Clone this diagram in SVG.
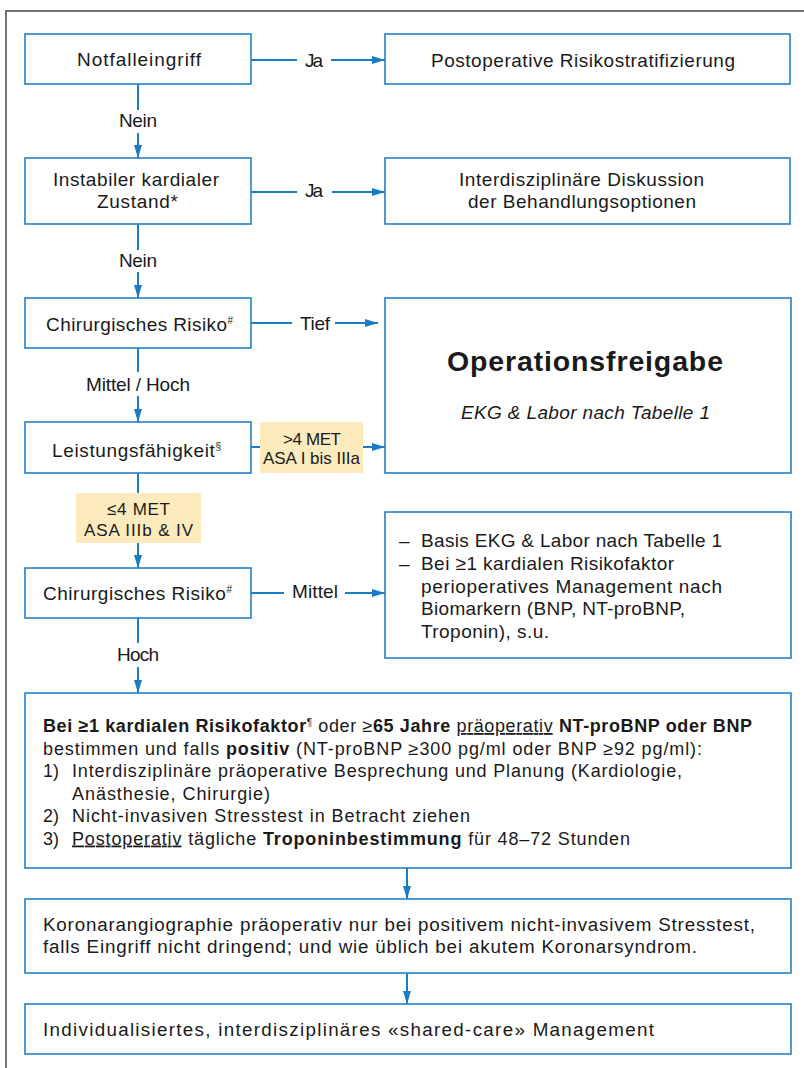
<svg xmlns="http://www.w3.org/2000/svg" width="804" height="1068" viewBox="0 0 804 1068">
<defs>
<style>
.box{fill:#fff;stroke:#2381c6;stroke-width:1.6}
.lbl{fill:#fdebbd;stroke:none}
.t{font-family:"Liberation Sans",Arial,sans-serif;font-size:19px;fill:#1a1a1a}
.y{font-size:17px}
.s{font-size:18px}
.m{font-size:18.8px}
.b{font-weight:bold}
.u{text-decoration:underline}
.sup{font-size:10px}
.c{stroke:#1a7cc2;stroke-width:2;fill:none}
</style>
<marker id="ah" markerWidth="13" markerHeight="8" refX="13" refY="4" orient="auto" markerUnits="userSpaceOnUse">
<path d="M0,0 L13,4 L0,8 z" fill="#1a7cc2"/>
</marker>
</defs>
<rect x="0" y="0" width="804" height="1068" fill="#fff"/>
<rect x="6" y="11" width="830" height="1090" fill="none" stroke="#444" stroke-width="1.5"/>

<g id="connectors">
<path class="c" d="M251,60 H297"/><path class="c" d="M331,60 H385" marker-end="url(#ah)"/>
<path class="c" d="M138,84 V110"/><path class="c" d="M138,133 V158" marker-end="url(#ah)"/>
<path class="c" d="M251,192 H297"/><path class="c" d="M332,192 H385" marker-end="url(#ah)"/>
<path class="c" d="M138,224 V250"/><path class="c" d="M138,272 V298" marker-end="url(#ah)"/>
<path class="c" d="M251,323 H292"/><path class="c" d="M335,323 H378" marker-end="url(#ah)"/>
<path class="c" d="M138,348 V372"/><path class="c" d="M138,396 V422" marker-end="url(#ah)"/>
<path class="c" d="M251,447 H260"/><path class="c" d="M363,447 H385" marker-end="url(#ah)"/>
<path class="c" d="M138,473 V493"/><path class="c" d="M138,543 V568" marker-end="url(#ah)"/>
<path class="c" d="M251,593 H284"/><path class="c" d="M345,593 H385" marker-end="url(#ah)"/>
<path class="c" d="M138,618 V643"/><path class="c" d="M138,667 V693" marker-end="url(#ah)"/>
<path class="c" d="M407,868 V899" marker-end="url(#ah)"/>
<path class="c" d="M407,973 V1004" marker-end="url(#ah)"/>
<text class="t" x="305" y="67" textLength="18">Ja</text>
<text class="t" x="305" y="197" textLength="18">Ja</text>
<text class="t" x="119" y="127" textLength="38">Nein</text>
<text class="t" x="119" y="267" textLength="38">Nein</text>
<text class="t" x="300" y="330" textLength="30">Tief</text>
<text class="t" x="86" y="391" textLength="104">Mittel / Hoch</text>
<text class="t" x="292" y="598" textLength="46">Mittel</text>
<text class="t" x="117" y="661" textLength="42">Hoch</text>
</g>

<g id="n1"><rect class="box" x="25" y="34" width="226" height="50"/>
<text class="t" x="77" y="66" textLength="124">Notfalleingriff</text></g>

<g id="n2"><rect class="box" x="385" y="34" width="405" height="50"/>
<text class="t" x="431" y="67" textLength="304">Postoperative Risikostratifizierung</text></g>

<g id="n3"><rect class="box" x="25" y="158" width="226" height="66"/>
<text class="t" x="53" y="186" textLength="166">Instabiler kardialer</text>
<text class="t" x="97" y="208" textLength="81">Zustand*</text></g>

<g id="n4"><rect class="box" x="385" y="158" width="405" height="66"/>
<text class="t" x="459" y="186" textLength="245">Interdisziplinäre Diskussion</text>
<text class="t" x="468" y="208" textLength="228">der Behandlungsoptionen</text></g>

<g id="n5"><rect class="box" x="25" y="298" width="226" height="50"/>
<text class="t" x="46" y="331" textLength="187">Chirurgisches Risiko<tspan class="sup" dy="-7">#</tspan></text></g>

<g id="n6"><rect class="box" x="385" y="298" width="406" height="175"/>
<text class="t b" x="447" y="371" style="font-size:28.5px" textLength="276">Operationsfreigabe</text>
<text class="t" x="461" y="419" style="font-style:italic" textLength="249">EKG &amp; Labor nach Tabelle 1</text></g>

<g id="n7"><rect class="box" x="25" y="422" width="226" height="51"/>
<text class="t" x="52" y="457" textLength="169">Leistungsfähigkeit<tspan class="sup" dy="-7">§</tspan></text></g>

<g id="l1"><rect class="lbl" x="260" y="422" width="103" height="51"/>
<text class="t y" x="283" y="445" textLength="58">&gt;4 MET</text>
<text class="t y" x="263" y="464" textLength="97">ASA I bis IIIa</text></g>

<g id="l2"><rect class="lbl" x="76" y="493" width="125" height="50"/>
<text class="t y" x="107" y="515" textLength="63">≤4 MET</text>
<text class="t y" x="84" y="536" textLength="109">ASA IIIb &amp; IV</text></g>

<g id="n8"><rect class="box" x="25" y="568" width="226" height="50"/>
<text class="t" x="43" y="600" textLength="189">Chirurgisches Risiko<tspan class="sup" dy="-7">#</tspan></text></g>

<g id="n9"><rect class="box" x="385" y="512" width="406" height="146"/>
<text class="t" x="399" y="547">–</text><text class="t" x="421" y="547" textLength="301">Basis EKG &amp; Labor nach Tabelle 1</text>
<text class="t" x="399" y="570">–</text><text class="t" x="421" y="570" textLength="253">Bei ≥1 kardialen Risikofaktor</text>
<text class="t" x="421" y="593" textLength="301">perioperatives Management nach</text>
<text class="t" x="421" y="615" textLength="264">Biomarkern (BNP, NT-proBNP,</text>
<text class="t" x="421" y="638" textLength="128">Troponin), s.u.</text></g>

<g id="n10"><rect class="box" x="25" y="693" width="766" height="175"/>
<text class="t s" x="43" y="732" textLength="709"><tspan class="b">Bei ≥1 kardialen Risikofaktor</tspan><tspan class="sup" dy="-6">¶</tspan><tspan dy="6"> oder ≥</tspan><tspan class="b">65 Jahre</tspan> <tspan class="u">präoperativ</tspan> <tspan class="b">NT-proBNP oder BNP</tspan></text>
<text class="t s" x="43" y="754.5" textLength="659">bestimmen und falls <tspan class="b">positiv</tspan> (NT-proBNP ≥300 pg/ml oder BNP ≥92 pg/ml):</text>
<text class="t s" x="43" y="777">1)</text><text class="t s" x="72" y="777" textLength="610">Interdisziplinäre präoperative Besprechung und Planung (Kardiologie,</text>
<text class="t s" x="72" y="799.5" textLength="198">Anästhesie, Chirurgie)</text>
<text class="t s" x="43" y="822">2)</text><text class="t s" x="72" y="822" textLength="398">Nicht-invasiven Stresstest in Betracht ziehen</text>
<text class="t s" x="43" y="844.5">3)</text><text class="t s" x="72" y="844.5" textLength="558"><tspan class="u">Postoperativ</tspan> tägliche <tspan class="b">Troponinbestimmung</tspan> für 48–72 Stunden</text></g>

<g id="n11"><rect class="box" x="25" y="899" width="766" height="74"/>
<text class="t m" x="43" y="931" textLength="712">Koronarangiographie präoperativ nur bei positivem nicht-invasivem Stresstest,</text>
<text class="t m" x="43" y="953" textLength="654">falls Eingriff nicht dringend; und wie üblich bei akutem Koronarsyndrom.</text></g>

<g id="n12"><rect class="box" x="25" y="1004" width="766" height="50"/>
<text class="t m" x="43" y="1036" textLength="611">Individualisiertes, interdisziplinäres «shared-care» Management</text></g>
</svg>
